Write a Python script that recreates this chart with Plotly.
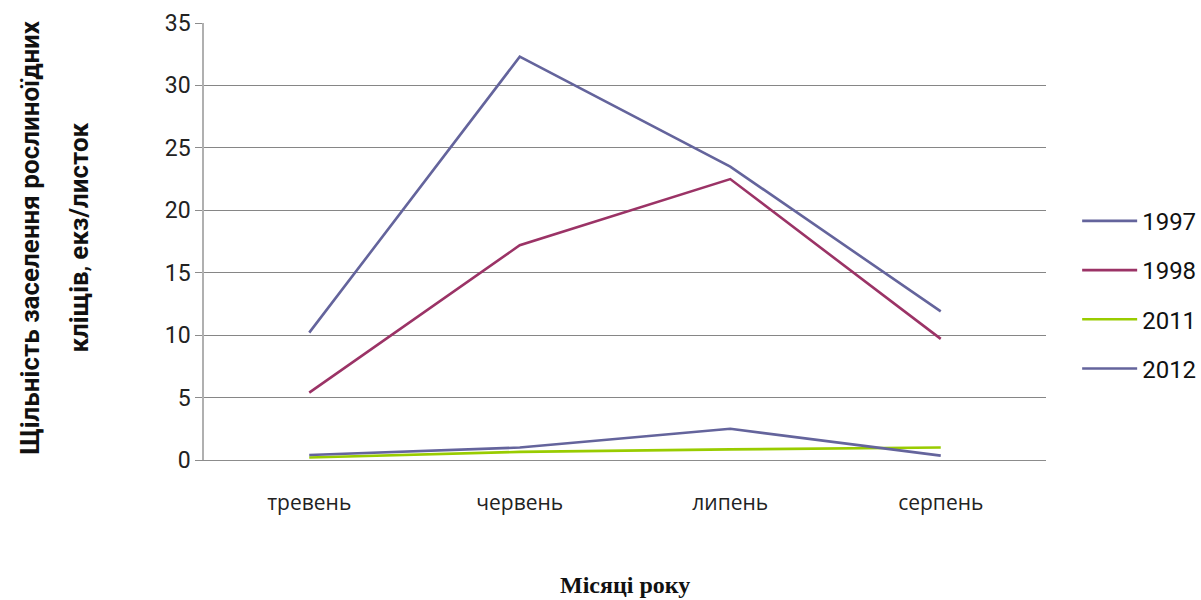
import plotly.graph_objects as go

# Місяці спостережень
months = ["тревень", "червень", "липень", "серпень"]

# Щільність заселення (екз/листок) за роками
y1997 = [10.2, 32.3, 23.5, 11.9]
y1998 = [5.4, 17.2, 22.5, 9.7]
y2011 = [0.2, 0.65, 0.85, 1.0]
y2012 = [0.4, 1.0, 2.5, 0.35]

series = [
    ("1997", y1997, "#64649c"),
    ("1998", y1998, "#9b3366"),
    ("2011", y2011, "#99cc00"),
    ("2012", y2012, "#64649c"),
]

fig = go.Figure()
for i, (name, vals, color) in enumerate(series):
    fig.add_trace(go.Scatter(
        x=months, y=vals, name=name, mode="lines",
        line=dict(color=color, width=2.6),
        legendgroup=f"g{i}",
    ))

fig.update_layout(
    width=1201, height=600,
    margin=dict(l=204, r=155, t=23, b=140, autoexpand=False),
    plot_bgcolor="white", paper_bgcolor="white",
    font=dict(family="Roboto, sans-serif", color="#222222"),
    legend=dict(
        x=1.037, y=0.378, xanchor="left", yanchor="middle",
        font=dict(size=24, color="#111111"),
        traceorder="grouped", tracegroupgap=15,
        itemwidth=55,
    ),
    showlegend=True,
)

fig.update_xaxes(
    range=[-0.5, 3.5],
    showgrid=False, showline=True, linecolor="#8c8c8c", linewidth=1,
    ticks="", tickfont=dict(size=21, family="Open Sans, sans-serif", color="#222222"),
    ticklabelstandoff=24,
)
fig.update_yaxes(
    range=[0, 35], dtick=5, showgrid=True, gridcolor="#868686", gridwidth=1,
    showline=True, linecolor="#b0b0b0", linewidth=1.5,
    ticks="outside", ticklen=7, tickcolor="#8c8c8c",
    tickfont=dict(size=23, color="#222222"),
    zeroline=False,
)

# Назва осі ординат у два рядки
fig.add_annotation(
    text="<b>Щільність заселення рослиноїдних</b>",
    xref="paper", yref="paper", x=-0.207, y=0.51,
    xanchor="center", yanchor="middle", textangle=-90, showarrow=False,
    font=dict(size=26, family="Roboto, sans-serif", color="#111111"),
)
fig.add_annotation(
    text="<b>кліщів</b>, <b>екз/листок</b>",
    xref="paper", yref="paper", x=-0.148, y=0.51,
    xanchor="center", yanchor="middle", textangle=-90, showarrow=False,
    font=dict(size=26, family="Roboto, sans-serif", color="#111111"),
)

# Назва осі абсцис
fig.add_annotation(
    text="<b>Місяці року</b>",
    xref="paper", yref="paper", x=0.5, y=-0.285,
    xanchor="center", yanchor="middle", showarrow=False,
    font=dict(size=24, family="Liberation Serif, Times New Roman, serif", color="#111111"),
)

fig.write_html("out.html")
